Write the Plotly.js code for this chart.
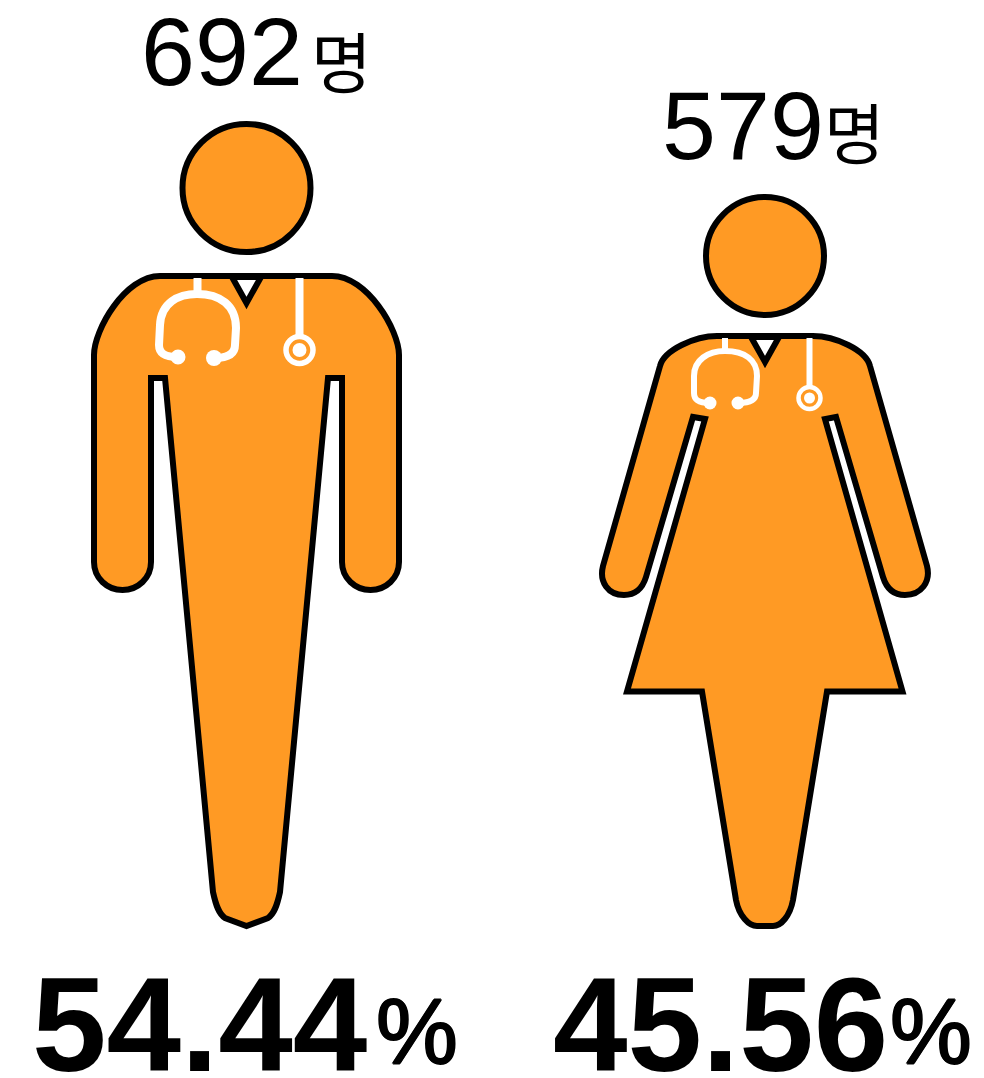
<!DOCTYPE html>
<html><head><meta charset="utf-8">
<script src="https://cdn.plot.ly/plotly-3.0.1.min.js"></script>
<style>html,body{margin:0;padding:0;background:#fff}#c{width:984px;height:1078px}</style>
</head><body><div id="c"></div>
<script>
// Data
const groups = ["남성", "여성"];
const counts = [692, 579];
const unit = "명";
const shares = [54.44, 45.56];
const percent = "%";

// Label anchors
const countX = [141, 662], countY = [61, 135];
const unitX = [311, 824], unitY = [71, 142];
const shareX = [32, 553], shareY = [1037, 1037];
const pctX = [376, 890], pctY = [1040, 1040];

const ORANGE = "#FF9A24", BLACK = "#000", WHITE = "#fff";

// Pictogram silhouettes (drawn in the chart's pixel scale)
const manBody = "M160,276 L332,276 C367,276 399,330 399,355 L399,562 C399,578 386,590 370.5,590 C355,590 342,578 342,562 L342,378 L328,378 L280,892 C277,906 274,914 268,918 L246.5,926 L225,918 C219,914 216,906 213,892 L165,378 L151,378 L151,562 C151,578 138,590 122.5,590 C107,590 94,578 94,562 L94,355 C94,330 125,276 160,276 Z";
const manCollar = "M232,277 L246.5,303 L261,277 Z";
const manTube = "M178,357 C166,357 159,354 159,345 L160,325 C161,303 178,294 197,294 C220,294 236,305 236,328 L235,345 C235,354 228,358 214,358";
const manStem1 = "M197.5,278 L197.5,294";
const manStem2 = "M299.5,278 L299.5,337";

const womanBody = "M717,336 L813,336 C835,336 866,350 870,366 L927,566 C931,582 921,595 905,595 C895,595 887,590 883,577 L836,417 L825,419 L902.5,691.5 L827,691.5 L793,900 C790,916 781,926 773,926 L757,926 C749,926 739,916 736,900 L702,691.5 L627,691.5 L705,419 L693,417 L646,577 C642,590 634,595 624,595 C608,595 599,582 603,566 L660,366 C664,350 695,336 717,336 Z";
const womanCollar = "M751,337 L765,362 L779,337 Z";
const womanTube = "M710,403 C700,403 694,401 694,393 L694,376 C694,360 708,351 725,351 C745,351 757,360 757,376 L756,393 C756,400 750,403 738,403";
const womanStem1 = "M725,338 L725,351";
const womanStem2 = "M809.5,338 L809.5,387";

const circle = (cx, cy, r, fill, lineColor, lineWidth) => ({
  type: "circle", xref: "x", yref: "y",
  x0: cx - r, x1: cx + r, y0: cy - r, y1: cy + r,
  fillcolor: fill, line: {color: lineColor, width: lineWidth}
});
const path = (d, fill, lineColor, lineWidth) => ({
  type: "path", xref: "x", yref: "y", path: d,
  fillcolor: fill, line: {color: lineColor, width: lineWidth}
});
const NONE = "rgba(0,0,0,0)";

const shapes = [
  // man
  circle(246.5, 188, 64, ORANGE, BLACK, 6),
  path(manBody, ORANGE, BLACK, 6),
  path(manCollar, WHITE, BLACK, 6),
  path(manStem1, NONE, WHITE, 8),
  path(manStem2, NONE, WHITE, 8),
  path(manTube, NONE, WHITE, 8),
  circle(178, 357, 7.5, WHITE, WHITE, 0),
  circle(214, 358, 8, WHITE, WHITE, 0),
  circle(299.5, 350, 13.5, ORANGE, WHITE, 5.5),
  circle(299.5, 350, 7, WHITE, WHITE, 0),
  // woman
  circle(765, 256, 59, ORANGE, BLACK, 6),
  path(womanBody, ORANGE, BLACK, 6),
  path(womanCollar, WHITE, BLACK, 6),
  path(womanStem1, NONE, WHITE, 6),
  path(womanStem2, NONE, WHITE, 6),
  path(womanTube, NONE, WHITE, 6),
  circle(710, 403, 6.5, WHITE, WHITE, 0),
  circle(738, 403, 6.5, WHITE, WHITE, 0),
  circle(809.5, 398, 11, ORANGE, WHITE, 4.5),
  circle(809.5, 398, 5.5, WHITE, WHITE, 0)
];

const textTrace = (x, y, text, family, size, weight, shadow) => ({
  type: "scatter", mode: "text", x, y, text,
  textposition: "middle right", cliponaxis: false, hoverinfo: "skip", showlegend: false,
  textfont: {family, size, color: BLACK, weight, shadow: shadow || "none"}
});

const traces = [
  textTrace(countX, countY, counts.map(String), "Liberation Sans, Arial, sans-serif", 97, 400),
  textTrace(unitX, unitY, groups.map(() => unit), "Noto Sans CJK KR, sans-serif", 66, 400),
  textTrace(shareX, shareY, shares.map(v => v.toFixed(2)), "Liberation Sans, Arial, sans-serif", 134, 700),
  textTrace(pctX, pctY, groups.map(() => percent), "Liberation Sans, Arial, sans-serif", 92, 400,
    "1px 0 0 #000, -1px 0 0 #000, 0 1px 0 #000, 0 -1px 0 #000")
];

Plotly.newPlot("c", traces, {
  width: 984, height: 1078,
  margin: {l: 0, r: 0, t: 0, b: 0},
  paper_bgcolor: "#fff", plot_bgcolor: "#fff",
  showlegend: false,
  xaxis: {visible: false, range: [0, 984], fixedrange: true},
  yaxis: {visible: false, range: [1078, 0], fixedrange: true},
  shapes
}, {staticPlot: true, displayModeBar: false});
</script>
</body></html>
